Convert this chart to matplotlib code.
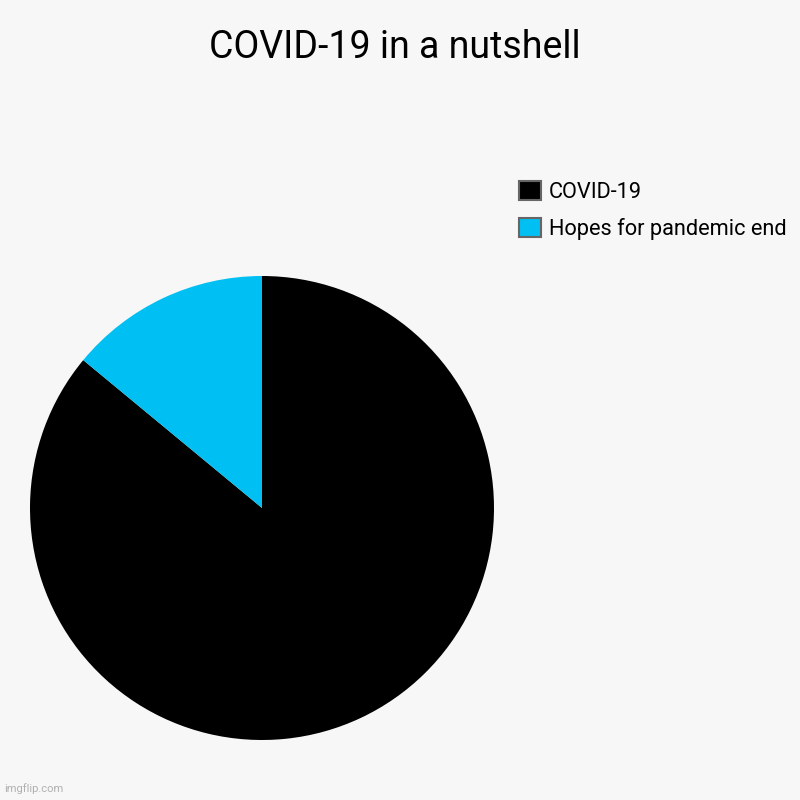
import matplotlib
matplotlib.use("Agg")
from matplotlib import pyplot as plt
from matplotlib.patches import Patch

# Chart data
labels = ['COVID-19', 'Hopes for pandemic end']
values = [86, 14]
colors = ['#000000', '#00bff3']

plt.rcParams['font.family'] = ['Roboto', 'DejaVu Sans']

fig = plt.figure(figsize=(8, 8), dpi=100, facecolor='#f7f7f7')
fig.text(0.494, 0.941, 'COVID-19 in a nutshell', ha='center', va='center', fontsize=27, color='#000000')

ax = fig.add_axes([0.0375, 0.075, 0.58, 0.58])
ax.set_facecolor('#f7f7f7')
ax.pie(values, colors=colors, startangle=90, counterclock=False, radius=1,
       wedgeprops=dict(linewidth=0))
ax.set_xlim(-1, 1)
ax.set_ylim(-1, 1)
ax.set_aspect('equal')
ax.axis('off')

handles = [Patch(facecolor=c, edgecolor='#666666', linewidth=1.5) for c in colors]
fig.legend(handles, labels, loc='upper left', bbox_to_anchor=(0.649, 0.774),
           frameon=False, fontsize=15.7, handlelength=1.0, handleheight=1.0,
           handletextpad=0.35, labelspacing=0.68, borderaxespad=0, borderpad=0)

fig.text(0.005, 0.008, 'imgflip.com', fontsize=8, color='#b0b0b0', ha='left', va='bottom')

fig.savefig('out.png', dpi=100, facecolor=fig.get_facecolor())
